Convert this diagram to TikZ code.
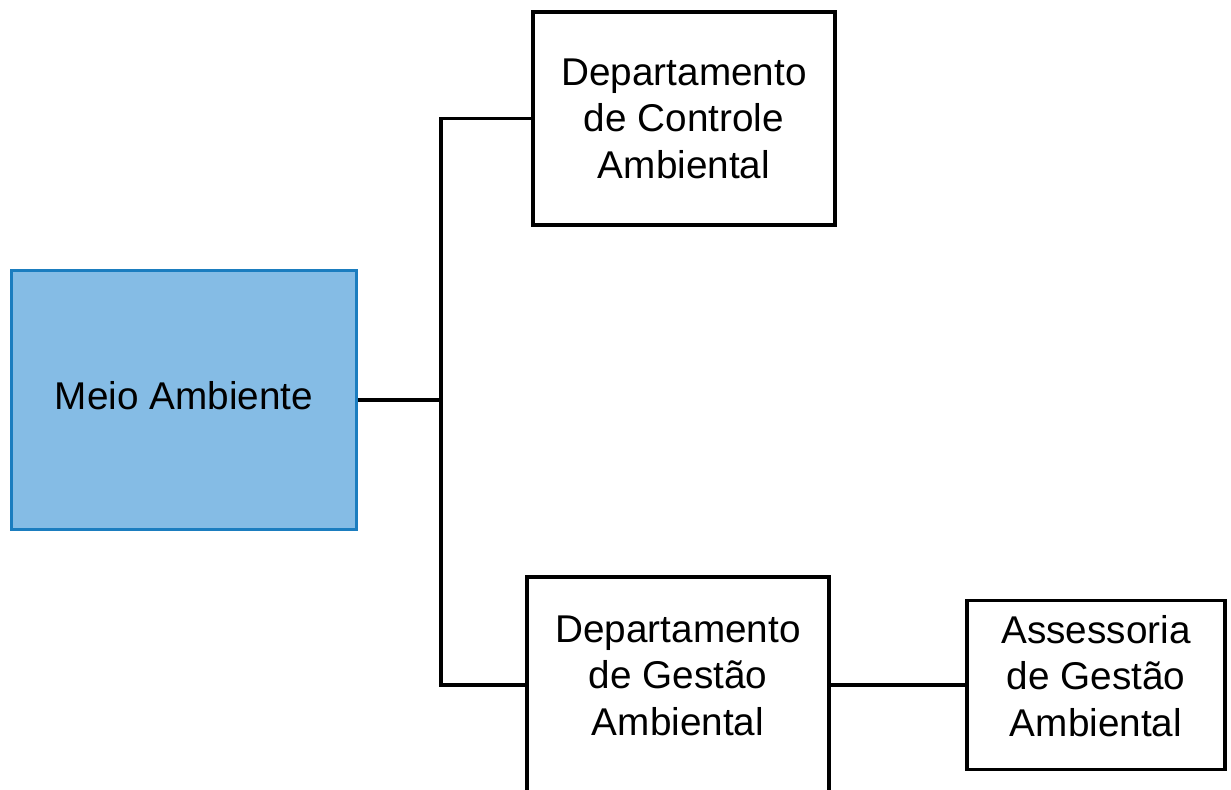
\documentclass[tikz,border=0pt]{standalone}
\usepackage{fontspec}
\setmainfont{Liberation Sans}
\usepackage{xcolor}
\definecolor{meiofill}{RGB}{133,188,229}
\definecolor{meiodraw}{RGB}{27,125,191}

\begin{document}
\begin{tikzpicture}[x=0.5pt,y=-0.5pt,line width=1.8pt,
  font=\fontsize{19.35pt}{23.25pt}\selectfont,
  box/.style={draw,rectangle,align=center,inner sep=0pt}]
\useasboundingbox (0,0) rectangle (1231,789);
\node[box,fill=meiofill,draw=meiodraw,line width=1.5pt,minimum width=172.5pt,minimum height=129.5pt,text depth=5pt] (ma) at (184,400) {Meio Ambiente};
\node[box,minimum width=151pt,minimum height=106.5pt] (dca) at (684,118.5) {Departamento\\de Controle\\Ambiental};
\node[box,minimum width=151pt,minimum height=108pt,text depth=9.5pt] (dga) at (678,685) {Departamento\\de Gestão\\Ambiental};
\node[box,minimum width=129pt,minimum height=84.5pt,text depth=9.5pt] (aga) at (1096,685) {Assessoria\\de Gestão\\Ambiental};
\coordinate (jn) at (441,400);
\draw (ma.east) -- (jn);
\draw (dca.west) -| (jn) |- (dga.west);
\path (dga) edge (aga);
\end{tikzpicture}
\end{document}
